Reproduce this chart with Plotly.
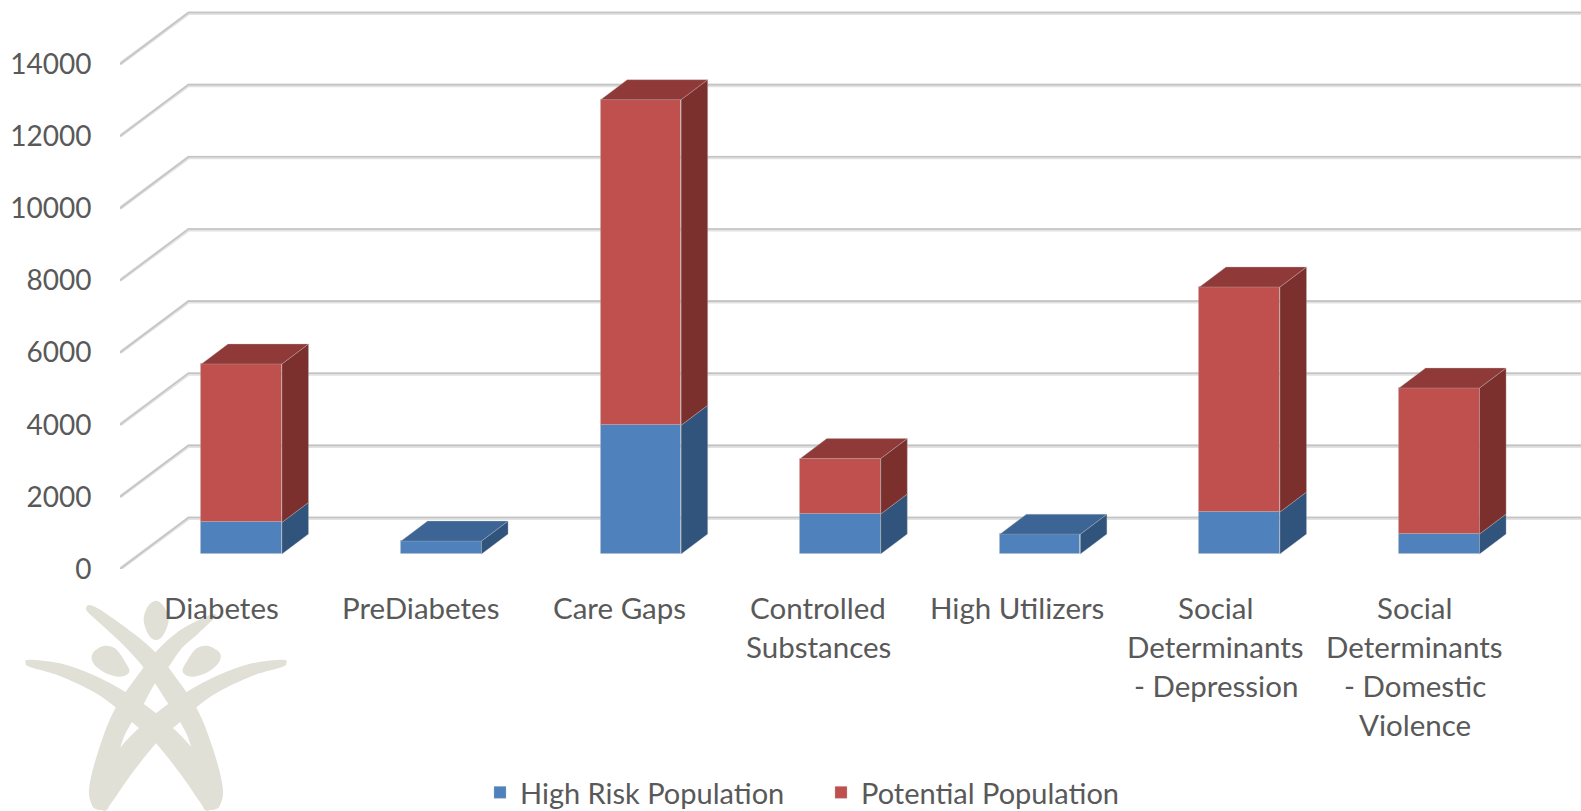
import plotly.graph_objects as go

# Chart data
categories = [
    ["Diabetes"],
    ["PreDiabetes"],
    ["Care Gaps"],
    ["Controlled", "Substances"],
    ["High Utilizers"],
    ["Social", "Determinants", "- Depression"],
    ["Social", "Determinants", "- Domestic", "Violence"],
]
high_risk = [878, 360, 3570, 1110, 550, 1165, 555]
potential = [4392, 0, 9028, 1538, 0, 6238, 4048]
y_ticks = [0, 2000, 4000, 6000, 8000, 10000, 12000, 14000]
y_tick_labels = ["0", "2000", "4000", "6000", "8000", "10000", "12000", "14000"]

WIDTH, HEIGHT = 1581, 811
LEFT, BOTTOM = 120, 242
CAT_PX = 199.6
VAL_PX = 72.14 / 2000
PLOT_W, PLOT_H = WIDTH - LEFT, HEIGHT - BOTTOM
X_RANGE = [-0.5, -0.5 + PLOT_W / CAT_PX]
Y_RANGE = [0, PLOT_H / VAL_PX]

# Oblique projection: depth 0 is the front of the floor, depth 1 the back wall
DX = 68.5 / CAT_PX
DY = 51.5 / VAL_PX
BAR_D0, BAR_D1 = 0.29, 0.678
BAR_SHIFT = 2 / CAT_PX
BAR_W = 80.5 / CAT_PX
X_END = X_RANGE[1] + 0.1
LABEL_STEP = 197.4 / 198

BLUE, RED = "#4f81bd", "#c0504d"
BLUE_SIDE, RED_SIDE = "#31547c", "#7c302e"
BLUE_TOP, RED_TOP = "#3c6596", "#8f3a38"
TEXT = "#595959"
FONT = "Lato, Carlito, sans-serif"
EDGE = "rgba(185,185,185,0.35)"


def project(x, y, depth):
    return x + depth * DX, y + depth * DY


def face(points, color):
    xs = [p[0] for p in points] + [points[0][0]]
    ys = [p[1] for p in points] + [points[0][1]]
    return go.Scatter(x=xs, y=ys, mode="lines", fill="toself", fillcolor=color,
                      line=dict(color=EDGE, width=1), hoverinfo="skip", showlegend=False)


def side_faces(i, low, high, color):
    xr = i + BAR_SHIFT + BAR_W / 2
    return face([project(xr, low, BAR_D0), project(xr, low, BAR_D1),
                 project(xr, high, BAR_D1), project(xr, high, BAR_D0)], color)


def top_face(i, top, color):
    xl, xr = i + BAR_SHIFT - BAR_W / 2, i + BAR_SHIFT + BAR_W / 2
    return face([project(xl, top, BAR_D0), project(xl, top, BAR_D1),
                 project(xr, top, BAR_D1), project(xr, top, BAR_D0)], color)


fig = go.Figure()
indices = list(range(len(categories)))
bar_x = [project(i + BAR_SHIFT, 0, BAR_D0)[0] for i in indices]
bar_base = project(0, 0, BAR_D0)[1]

fig.add_bar(name="High Risk Population", x=bar_x, y=high_risk, base=[bar_base] * len(indices),
            width=BAR_W, marker=dict(color=BLUE, line=dict(color=EDGE, width=1)))
fig.add_bar(name="Potential Population", x=bar_x, y=potential,
            base=[bar_base + h for h in high_risk],
            width=BAR_W, marker=dict(color=RED, line=dict(color=EDGE, width=1)))

for i, (h, p) in enumerate(zip(high_risk, potential)):
    fig.add_trace(side_faces(i, 0, h, BLUE_SIDE))
    if p > 0:
        fig.add_trace(side_faces(i, h, h + p, RED_SIDE))
        fig.add_trace(top_face(i, h + p, RED_TOP))
    else:
        fig.add_trace(top_face(i, h, BLUE_TOP))

# Wall and floor gridlines, one bent line per tick
shapes = []
for v in y_ticks:
    bx, by = project(-0.5, v, 1)
    ex, ey = project(X_END, v, 1)
    for color, width, nudge in (("#e2e2e2", 3.5, -22), ("#c4c4c4", 1.6, 0)):
        path = f"M -0.5 {v} L {bx} {by + nudge} L {ex} {ey + nudge}"
        shapes.append(dict(type="path", path=path, xref="x", yref="y", layer="below",
                           line=dict(color=color, width=width)))


def to_paper(px, py):
    return (px - LEFT) / PLOT_W, 1 - py / PLOT_H


def smooth_path(points):
    """Closed Catmull-Rom outline through logo points, written as an SVG path in paper units."""
    pts = [to_paper(x / 3, 580 + y / 3) for x, y in points]
    n = len(pts)
    d = f"M {pts[0][0]:.5f} {pts[0][1]:.5f}"
    for k in range(n):
        p0, p1, p2, p3 = pts[k - 1], pts[k], pts[(k + 1) % n], pts[(k + 2) % n]
        c1 = (p1[0] + (p2[0] - p0[0]) / 6, p1[1] + (p2[1] - p0[1]) / 6)
        c2 = (p2[0] - (p3[0] - p1[0]) / 6, p2[1] - (p3[1] - p1[1]) / 6)
        d += f" C {c1[0]:.5f} {c1[1]:.5f} {c2[0]:.5f} {c2[1]:.5f} {p2[0]:.5f} {p2[1]:.5f}"
    return d + " Z"


# Watermark logo: three heads and four crossing limbs
LOGO = "#e0e0d6"
logo_parts = [
    # heads
    [(468, 62), (492, 80), (506, 120), (490, 165), (468, 180), (446, 165), (431, 120), (443, 80)],
    [(310, 198), (345, 205), (375, 245), (388, 275), (360, 290), (315, 278), (280, 250), (278, 220)],
    [(625, 198), (590, 205), (560, 245), (548, 275), (575, 290), (620, 278), (655, 250), (660, 220)],
    # upper left limb running down to the right foot
    [(258, 84), (270, 75), (310, 95), (400, 160), (468, 218), (505, 262), (590, 385), (640, 510),
     (668, 620), (660, 675), (630, 690), (605, 670), (573, 500), (540, 425), (505, 372), (465, 310),
     (425, 255), (370, 195), (300, 130), (265, 98)],
    # upper right limb running down to the left foot
    [(650, 108), (640, 118), (590, 165), (545, 205), (505, 262), (465, 310), (431, 372), (396, 425),
     (362, 500), (330, 670), (305, 690), (276, 675), (268, 620), (296, 510), (346, 385), (431, 262),
     (468, 215), (530, 158), (600, 118), (640, 102)],
    # left arm running down to the right foot
    [(77, 250), (88, 239), (180, 250), (280, 285), (375, 335), (468, 400), (573, 500), (640, 610),
     (660, 675), (630, 690), (610, 680), (540, 580), (468, 490), (418, 445), (395, 425), (345, 380),
     (280, 335), (180, 288), (92, 262)],
    # right arm running down to the left foot
    [(859, 250), (848, 239), (756, 250), (656, 285), (561, 335), (468, 400), (363, 500), (296, 610),
     (276, 675), (306, 690), (326, 680), (396, 580), (468, 490), (518, 445), (541, 425), (591, 380),
     (656, 335), (756, 288), (844, 262)],
]
for part in logo_parts:
    shapes.append(dict(type="path", path=smooth_path(part), xref="paper", yref="paper",
                       layer="below", fillcolor=LOGO, line=dict(width=0)))

# Category labels, one annotation per line so the leading stays even
LINE_TOP, LINE_GAP = 607, 39
annotations = []
for i, lines in enumerate(categories):
    for k, line in enumerate(lines):
        annotations.append(dict(text=line, x=2 + (i - 2) * LABEL_STEP, xref="x",
                                y=to_paper(0, LINE_TOP + k * LINE_GAP)[1],
                                yref="paper", yanchor="middle", xanchor="center", showarrow=False,
                                font=dict(family=FONT, size=29.5, color=TEXT)))

fig.update_layout(
    width=WIDTH, height=HEIGHT,
    margin=dict(l=LEFT, r=0, t=0, b=BOTTOM, pad=0, autoexpand=False),
    plot_bgcolor="white", paper_bgcolor="white",
    barmode="overlay", bargap=0,
    shapes=shapes, annotations=annotations,
    xaxis=dict(range=X_RANGE, showgrid=False, zeroline=False, showline=False,
               showticklabels=False, ticks=""),
    yaxis=dict(range=Y_RANGE, tickvals=y_ticks, ticktext=y_tick_labels,
               showgrid=False, zeroline=False, showline=False,
               ticks="outside", ticklen=22, tickcolor="rgba(0,0,0,0)",
               tickfont=dict(family=FONT, size=28, color=TEXT)),
    legend=dict(orientation="h", x=(480 - LEFT) / PLOT_W, xanchor="left",
                y=1 - 767 / PLOT_H, yanchor="top", bgcolor="rgba(0,0,0,0)",
                font=dict(family=FONT, size=29, color=TEXT),
                entrywidth=296, entrywidthmode="pixels", traceorder="normal"),
)

fig.write_html("out.html")
